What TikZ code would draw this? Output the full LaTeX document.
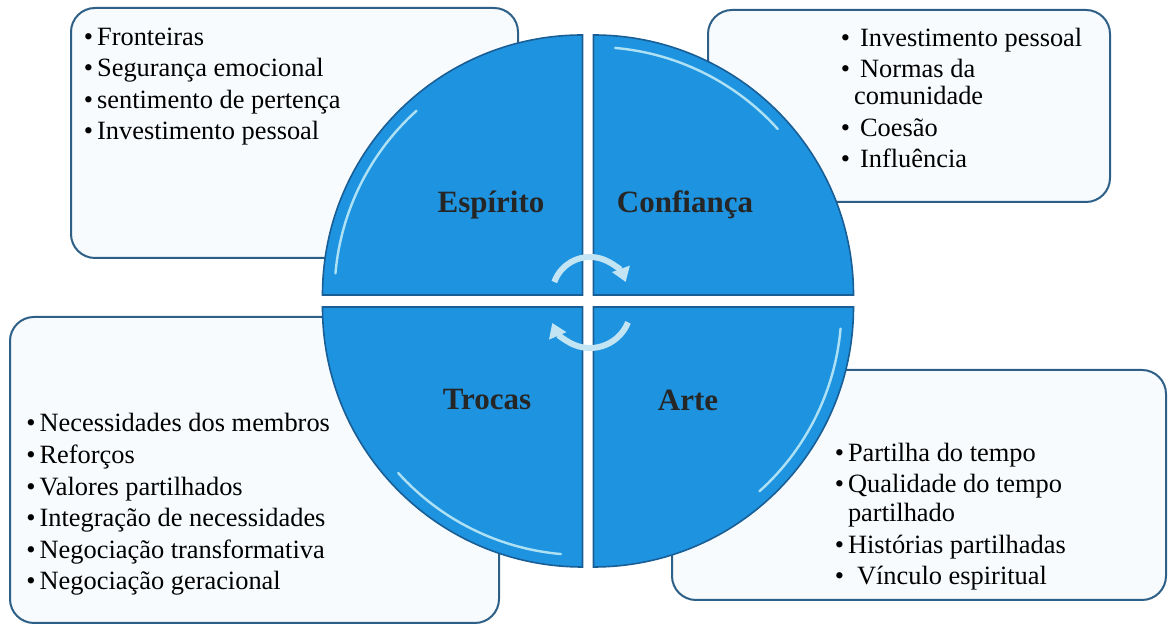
\documentclass[tikz,border=0pt]{standalone}
\usepackage{fontspec}
\setmainfont{Liberation Serif}
\usetikzlibrary{arrows.meta}
\definecolor{quadblue}{RGB}{30,148,225}
\definecolor{quadedge}{RGB}{25,95,150}
\definecolor{boxedge}{RGB}{45,95,135}
\definecolor{boxfill}{RGB}{248,251,253}
\definecolor{shinec}{RGB}{175,225,245}
\definecolor{turnc}{RGB}{195,228,242}
\newcommand{\itm}{\textbullet\hspace{2pt}}
\newcommand{\cont}{\hphantom{\textbullet}\hspace{2pt}}
\tikzset{
  infobox/.style={draw=boxedge,line width=1pt,fill=boxfill,rounded corners=12pt},
  quarter/.style={fill=quadblue,draw=quadedge,line width=0.8pt},
  shine/.style={draw=shinec,line width=1.2pt,line cap=round},
  quadlabel/.style={font=\fontsize{15.5}{18}\selectfont\bfseries,text=black!85},
  itemlist/.style={font=\fontsize{13.2}{15.8}\selectfont,align=left,anchor=base west,inner sep=0pt},
  turnarrow/.style={draw=turnc,line width=3pt,-{Triangle[length=7pt,width=9pt]}}
}
\begin{document}
\begin{tikzpicture}[x=0.5pt,y=0.5pt]
    \useasboundingbox (0,0) rectangle (1169,626);
    \draw[infobox] (71,368) rectangle (518,618);
    \draw[infobox] (708,424) rectangle (1110,616);
    \draw[infobox] (10,3) rectangle (499,309);
    \draw[infobox] (672,26) rectangle (1166,256);
    \foreach \a/\sx/\sy in {90/-1/1,0/1/1,-90/1/-1,-180/-1/-1}{
      \filldraw[quarter] (588+\sx*5.5,325+\sy*6) -- ++(\a+90:260) arc[start angle=\a+90,end angle=\a,radius=260] -- cycle;
      \draw[shine] ([shift={(\a+85:248)}]588+\sx*5.5,325+\sy*6) arc[start angle=\a+85,end angle=\a+42,radius=248];
    }
    \draw[turnarrow] ([shift={(160:38)}]590,331) arc[start angle=160,end angle=20,radius=38];
    \draw[turnarrow] ([shift={(-22:41)}]590,319) arc[start angle=-22,end angle=-157,radius=41];
    \node[quadlabel] (esp) at (491,421) {Espírito};
    \node[quadlabel] (conf) at (685,421) {Confiança};
    \node[quadlabel] (troc) at (487,226) {Trocas};
    \node[quadlabel] (arte) at (688,226) {Arte};
    \node[itemlist] (esplist) at (83.5,486) {\itm Fronteiras\\ \itm Segurança emocional\\ \itm sentimento de pertença\\ \itm Investimento pessoal};
    \node[itemlist] (conflist) at (840.5,458) {\textbullet\hspace{5pt}Investimento pessoal\\ \textbullet\hspace{5pt}Normas da\\[-2.3pt] \hphantom{\textbullet}\hspace{2pt}comunidade\\ \textbullet\hspace{5pt}Coesão\\ \textbullet\hspace{5pt}Influência};
    \node[itemlist] (troclist) at (26,36) {\itm Necessidades dos membros\\ \itm Reforços\\ \itm Valores partilhados\\ \itm Integração de necessidades\\ \itm Negociação transformativa\\ \itm Negociação geracional};
    \node[itemlist] (artelist) at (834.4,41) {\itm Partilha do tempo\\ \itm Qualidade do tempo\\[-1.3pt] \cont partilhado\\ \itm Histórias partilhadas\\ \itm\hspace{4.5pt}Vínculo espiritual};
\end{tikzpicture}
\end{document}
